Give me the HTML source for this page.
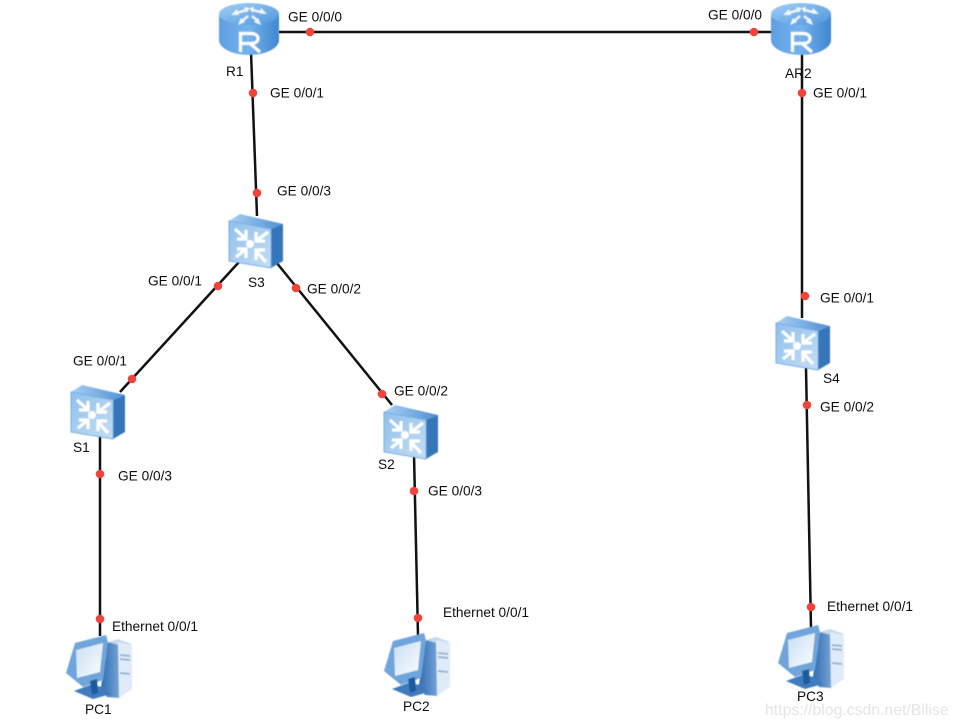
<!DOCTYPE html>
<html>
<head>
<meta charset="utf-8">
<style>
html,body{margin:0;padding:0;background:#fff;width:958px;height:728px;overflow:hidden}
svg{display:block}
text{font-family:"Liberation Sans",sans-serif;font-size:13.700px;fill:#111;filter:url(#soft)}
</style>
</head>
<body>
<svg width="958" height="728" viewBox="0 0 958 728" xmlns="http://www.w3.org/2000/svg">
<defs>
<filter id="soft" x="-5%" y="-20%" width="110%" height="140%"><feGaussianBlur stdDeviation="0.300"/></filter>
<filter id="soft2" x="-10%" y="-10%" width="120%" height="120%"><feGaussianBlur stdDeviation="0.500"/></filter>
<linearGradient id="rb" x1="0" x2="1" y1="0" y2="0"><stop offset="0" stop-color="#5f9fe0"/><stop offset=".5" stop-color="#74b2ee"/><stop offset="1" stop-color="#3f86cf"/></linearGradient>
<linearGradient id="rt" x1="0" x2="1" y1="0" y2="1"><stop offset="0" stop-color="#a2cff5"/><stop offset="1" stop-color="#4f96dc"/></linearGradient>
<linearGradient id="sf" x1="0" x2="1" y1="0" y2="1"><stop offset="0" stop-color="#8fc0ec"/><stop offset="1" stop-color="#c4def5"/></linearGradient>
<linearGradient id="st" x1="0" x2="1" y1="0" y2="0"><stop offset="0" stop-color="#a8d0f2"/><stop offset="1" stop-color="#4f8fd4"/></linearGradient>
<linearGradient id="scr" x1="0" x2="1" y1="0" y2="1"><stop offset="0" stop-color="#c9def3"/><stop offset="1" stop-color="#fbfdff"/></linearGradient>
<linearGradient id="ps" x1="0" x2="1" y1="0" y2="0"><stop offset="0" stop-color="#2f6db0"/><stop offset="1" stop-color="#7aa5d8"/></linearGradient>
<g id="router" filter="url(#soft2)">
<path d="M0 14V40C0 48 13 55 30 55S60 48 60 40V14Z" fill="url(#rb)"/>
<ellipse cx="30" cy="14" rx="30" ry="11" fill="url(#rt)"/>
<g stroke="#eef6fd" stroke-width="2.400" fill="none">
<path d="M15 14L27 10M45 13L34 10M22 22L29 16M40 22L33 16"/>
</g>
<path d="M12 15l6-6 2 6zM48 14l-6-6-2 5zM19 25l3-7 4 4zM42 25l-3-7-4 4zM25 7l6 1-4 5zM35 7l-5 1 4 5z" fill="#eef6fd"/>
<path d="M21.500 52V33.500H32C37 33.500 39 36 39 38.500S37 43.500 32 43.500H21.500M31 43.500L41 52" fill="none" stroke="#fafdff" stroke-width="3.200"/>
</g>
<g id="switch" filter="url(#soft2)">
<path d="M1 7L12 0L55 10L43 15Z" fill="url(#st)"/>
<path d="M43 15L55 10V47L43 54Z" fill="#3476bb"/>
<path d="M1 7L43 15V54L1 47Z" fill="url(#sf)" stroke="#76aee6" stroke-width="1"/>
<circle cx="22" cy="30" r="4" fill="#fff"/>
<g fill="none" stroke="#fff" stroke-width="3.200">
<path d="M7 15L18 25M18 16V25H9"/>
<path d="M40 18L28 27"/>
<path d="M28 18V27H37"/>
<path d="M8 43L18 35M9 35H18V44"/>
<path d="M38 48L28 37M37 36H28V46"/>
</g>
</g>
<g id="pc" filter="url(#soft2)">
<path d="M40 8L51 5L53 63L40 62L34 52Z" fill="url(#ps)"/>
<path d="M41 7L51 4L65 9L55 11Z" fill="#c4d8ec"/>
<path d="M51 7L65 10V54L52 63Z" fill="#dfebf8"/>
<path d="M53 20L63 21M53 24L63 25M53 38L63 39" stroke="#8fb0d0" stroke-width="1.800"/>
<path d="M8 8L39 0L41 7L36 45L16 52L-1 38Z" fill="#6fa5dc"/>
<path d="M9 15L36 8L33 37L10 43Z" fill="url(#scr)"/>
<path d="M7 56L23 50L36 52L44 59L26 64Z" fill="#3f7cbd"/>
<path d="M23 46L30 44L31 58L25 60Z" fill="#1f5c9e"/>
</g>
</defs>

<g stroke="#111" stroke-width="2.500" fill="none">
<path d="M279 32H772"/>
<path d="M251 52L257 216"/>
<path d="M802 52V318"/>
<path d="M239 262L120 392"/>
<path d="M276 262L392 405"/>
<path d="M100 436V636"/>
<path d="M414 454L418 636"/>
<path d="M806 368L811 628"/>
</g>

<use href="#router" x="219" y="0"/>
<use href="#router" x="771" y="0"/>
<use href="#switch" x="228" y="214"/>
<use href="#switch" x="70" y="385"/>
<use href="#switch" x="383" y="405"/>
<use href="#switch" x="775" y="316"/>
<use href="#pc" x="67" y="635"/>
<use href="#pc" x="385" y="633"/>
<use href="#pc" x="779" y="625"/>

<g fill="#f0443a">
<circle cx="310" cy="32" r="4.300"/><circle cx="754" cy="32" r="4.300"/>
<circle cx="253" cy="93" r="4.300"/><circle cx="802" cy="93" r="4.300"/>
<circle cx="257" cy="193" r="4.300"/><circle cx="805" cy="296" r="4.300"/>
<circle cx="218" cy="286" r="4.300"/><circle cx="296" cy="288" r="4.300"/>
<circle cx="132" cy="379" r="4.300"/><circle cx="382" cy="394" r="4.300"/>
<circle cx="807" cy="405" r="4.300"/>
<circle cx="100" cy="474" r="4.300"/><circle cx="414" cy="491" r="4.300"/>
<circle cx="100" cy="619" r="4.300"/><circle cx="418" cy="618" r="4.300"/><circle cx="811" cy="607" r="4.300"/>
</g>

<text x="288" y="21.700">GE 0/0/0</text>
<text x="708" y="19.700">GE 0/0/0</text>
<text x="270" y="97.700">GE 0/0/1</text>
<text x="813" y="97.700">GE 0/0/1</text>
<text x="277" y="195.700">GE 0/0/3</text>
<text x="148" y="285.700">GE 0/0/1</text>
<text x="307" y="293.700">GE 0/0/2</text>
<text x="73" y="365.700">GE 0/0/1</text>
<text x="394" y="395.700">GE 0/0/2</text>
<text x="820" y="302.700">GE 0/0/1</text>
<text x="820" y="411.700">GE 0/0/2</text>
<text x="118" y="480.700">GE 0/0/3</text>
<text x="428" y="495.700">GE 0/0/3</text>
<text x="112" y="631">Ethernet 0/0/1</text>
<text x="443" y="617">Ethernet 0/0/1</text>
<text x="827" y="611">Ethernet 0/0/1</text>
<text x="226" y="76">R1</text>
<text x="785" y="78">AR2</text>
<text x="248" y="287">S3</text>
<text x="73" y="452">S1</text>
<text x="378" y="469">S2</text>
<text x="823" y="383">S4</text>
<text x="85" y="714">PC1</text>
<text x="403" y="711">PC2</text>
<text x="797" y="701">PC3</text>
<text x="765" y="715" style="font-size:15.800px;fill:#e4e4e4">https://blog.csdn.net/Bilise</text>
</svg>
</body>
</html>
